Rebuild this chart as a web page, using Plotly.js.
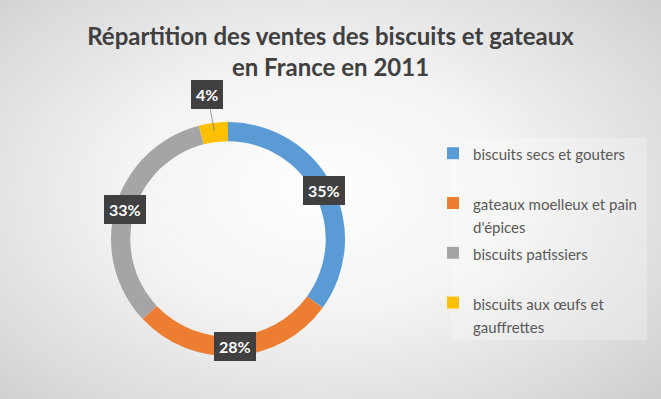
<!DOCTYPE html>
<html><head><meta charset="utf-8">
<script src="https://cdn.plot.ly/plotly-3.0.1.min.js"></script>
<style>
html,body{margin:0;padding:0;}
#chart{width:661px;height:399px;background:radial-gradient(ellipse 75% 80% at 48% 48%, #ffffff 0%, #f3f3f3 40%, #d9d9d9 80%, #c8c9c9 100%);}
</style></head>
<body><div id="chart"></div>
<script>
const labels = ["biscuits secs et gouters", "gateaux moelleux et pain d'épices", "biscuits patissiers", "biscuits aux œufs et gauffrettes"];
const legendLines = [["biscuits secs et gouters"], ["gateaux moelleux et pain", "d'épices"], ["biscuits patissiers"], ["biscuits aux œufs et", "gauffrettes"]];
const values = [35, 28, 33, 4];
const colors = ["#5B9BD5", "#ED7D31", "#A5A5A5", "#FFC000"];

const W = 661, H = 399;
const cx = 228, cy = 239, R = 117, hole = 0.835;
const font = "Lato, 'Open Sans', sans-serif";

// legend entries: each padded to 2 lines, text drawn at 15px
const legendLabels = legendLines.map(ls => {
  const l = ls.slice(); while (l.length < 2) l.push('&nbsp;');
  return l.map(t => '<span style="font-size:15px">' + t + '</span>').join('<br>');
});

const total = values.reduce((a,b)=>a+b,0);
const ann = [];
let cum = 0;
values.forEach((v,i)=>{
  const mid = (cum + v/2)/total * 2*Math.PI;
  cum += v;
  const small = v/total < 0.08;
  const r = small ? R*0.93 : R*(1+hole)/2;
  const px = cx + r*Math.sin(mid), py = cy - r*Math.cos(mid);
  const a = {
    x: px/W, y: 1-py/H, xref:'paper', yref:'paper',
    xanchor:'center', yanchor:'middle',
    text: '<b>' + Math.round(v/total*100) + '%</b>',
    font:{family:font, size:16, color:'#ffffff'},
    bgcolor:'#404040', borderpad:5, borderwidth:0,
    showarrow: small
  };
  if (small) { a.ax = -7; a.ay = -37; a.arrowhead = 0; a.arrowwidth = 0.8; a.arrowcolor = '#7f7f7f'; a.standoff = 0; }
  ann.push(a);
});

const data = [{
  type:'pie', labels: legendLabels, values: values,
  marker:{colors: colors, line:{width:0}},
  hole: hole, sort:false, direction:'clockwise', rotation:0,
  textinfo:'none', hoverinfo:'none',
  domain:{x:[(cx-R)/W,(cx+R)/W], y:[1-(cy+R)/H, 1-(cy-R)/H]}
}];

const layout = {
  width:W, height:H,
  margin:{l:0,r:0,t:0,b:0},
  paper_bgcolor:'rgba(0,0,0,0)', plot_bgcolor:'rgba(0,0,0,0)',
  title:{text:'<b>Répartition des ventes des biscuits et gateaux<br>en France en 2011</b>', font:{family:font, size:24, color:'#404040'}, x:0.5, xanchor:'center', y:1-45/H, yanchor:'middle'},
  showlegend:true,
  legend:{x:433/W, xanchor:'left', y:1-135/H, yanchor:'top', bgcolor:'rgba(0,0,0,0)', font:{family:font, size:18, color:'#595959'}, valign:'top', tracegroupgap:0},
  shapes:[{type:'rect', xref:'paper', yref:'paper', x0:451/W, x1:647/W, y0:1-340/H, y1:1-138/H, fillcolor:'rgba(255,255,255,0.25)', line:{width:0}, layer:'below'}],
  annotations: ann
};
Plotly.newPlot('chart', data, layout, {staticPlot:true});
</script></body></html>
